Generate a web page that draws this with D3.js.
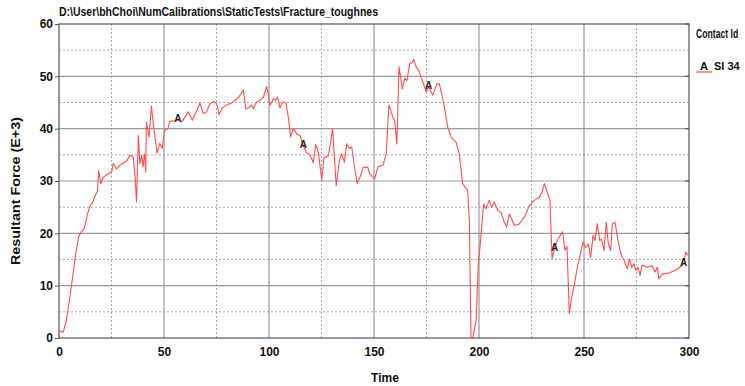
<!DOCTYPE html>
<html>
<head>
<meta charset="utf-8">
<script src="https://cdn.jsdelivr.net/npm/d3@7"></script>
<style>
  body { margin: 0; background: #fff; }
  svg text { font-family: "Liberation Sans Narrow", "Arial Narrow", "Liberation Sans", Arial, sans-serif; font-weight: bold; }
</style>
</head>
<body>
<svg id="chart" width="745" height="386"></svg>
<script>
// chart values
const chartTitle = "D:\\User\\bhChoi\\NumCalibrations\\StaticTests\\Fracture_toughnes";
const xTicks = [0, 50, 100, 150, 200, 250, 300];
const yTicks = [0, 10, 20, 30, 40, 50, 60];
const legendTitle = "Contact Id";
const seriesName = "SI 34";
const markerTimes = [56.6, 116.4, 176, 236, 297.4];

const time = [
  0, 2, 3.5, 5.4, 7.7, 9.3, 10.4, 12, 13.6, 14.8, 15.9, 17.2, 18.3, 18.9, 19.9, 21.1, 22.7,
  25.1, 25.9, 27.4, 29.8, 32.2, 33.8, 35.3, 36.3, 36.9, 37.8, 38.5, 39.4, 40, 40.7, 41.3,
  41.6, 42.9, 44, 45.1, 46.7, 47.9, 49.2, 50.3, 51.9, 52.7, 55, 56.6, 58.4,
  60, 61.6, 63.5, 65.6, 67.1, 68.7, 70.3, 71.9, 73.5, 75.1, 76.2, 77.8, 79.8, 82.2, 85.4,
  87.8, 88.9, 90.5, 91.7, 92.5, 94.1, 95.7, 97.3, 98.9, 100.5, 102.1, 103.2, 104.1, 105.2,
  106.5, 108.1, 109.2, 110.3, 111.6, 113.2, 114.8, 115.9, 117.7, 119.5, 121.1, 122.2, 123.5,
  125.1, 126.2, 128.3, 130.3, 132, 133.5, 134.6, 135.9, 137, 138.3, 139.4, 140.5, 142, 143.3,
  144.9, 147.1, 147.9, 150.3, 151.9, 154.3, 155.8, 157.1, 159, 159.8, 160.9, 161.9, 163.5,
  164.6, 165.7, 167, 168.2, 168.9, 170.1, 171.4, 173, 174.9, 176, 178, 179.9, 181.1, 182.3,
  183.5, 185.1, 186.7, 189.1, 190.6, 192.2, 194.6, 195.4, 196.2, 197, 198.6, 199.7, 200.9,
  202.2, 203.3, 204.9, 206, 207.3, 208.9, 210.5, 212.1, 213.2, 214.4, 215.5, 216.8, 219.2,
  221.6, 224, 226.3, 228.7, 230, 231.1, 232.7, 233.8, 234.8, 236.2, 237.5, 239.8, 240.9,
  241.9, 243, 244, 245.2, 246.8, 248.3, 249.5, 250.7, 252, 253.2, 254.3, 255.2, 256.3, 257.5,
  258.4, 259.5, 260.6, 261.6, 262.7, 263.5, 264.8, 265.9, 267.5, 269.1, 270.6, 271.7, 272.7,
  273.8, 274.6, 275.7, 276.7, 277.5, 280.2, 282.5, 283.8, 284.9, 285.7, 287, 290.5, 293.7,
  296, 297.6, 298.4, 299.7
];
const force = [
  1.4, 1.1, 3.3, 8.4, 15.4, 19.3, 20.2, 20.9, 23.7, 25.3, 25.8, 27.2, 27.9, 32.0, 29.5, 30.7, 31.2,
  31.8, 33.4, 32.3, 33.3, 33.8, 34.9, 34.7, 30.7, 26.0, 38.7, 33.3, 34.9, 32.7, 35.2, 31.7,
  41.3, 38.4, 44.3, 40.3, 35.3, 37.2, 36.2, 39.7, 40.0, 41.4, 41.5, 41.7, 41.3,
  42.2, 43.2, 41.6, 43.5, 44.9, 42.9, 43.2, 44.8, 45.2, 44.8, 42.7, 44.0, 44.5, 44.9, 45.9,
  47.4, 43.8, 44.0, 44.5, 43.8, 45.1, 45.4, 46.0, 48.1, 44.5, 45.7, 45.4, 46.0, 44.0,
  45.1, 44.9, 42.2, 38.4, 40.0, 39.0, 38.7, 37.2, 35.5, 35.0, 33.5, 37.0, 35.5,
  30.2, 34.5, 34.8, 40.0, 29.1, 33.9, 35.2, 33.6, 37.1, 36.2, 36.5, 33.3, 29.5, 30.7,
  32.6, 32.6, 31.4, 30.4, 32.7, 33.0, 35.2, 44.5, 42.2, 41.6, 37.1, 51.8, 47.6,
  49.6, 49.2, 52.4, 52.7, 53.2, 51.8, 51.1, 49.2, 47.0, 48.0, 46.4, 48.5, 48.6, 46.5,
  44.1, 40.3, 38.4, 37.4, 35.2, 29.5, 28.2, 22.4, 0.1, 0, 3.3, 14.2, 19.3,
  25.6, 24.7, 26.3, 25.0, 26.0, 24.4, 24.0, 22.1, 21.2, 23.7, 22.8, 21.5, 21.8,
  23.1, 25.3, 26.3, 26.9, 27.9, 29.5, 27.6, 26.3, 15.2, 17.4, 18.9, 20.3, 16.8,
  17.5, 4.7, 7.5, 9.7, 13.5, 16.1, 18.3, 17.3, 18.0, 15.4, 19.6, 18.6, 21.8, 18.6,
  18.9, 16.7, 22.1, 18.0, 16.7, 21.8, 22.1, 19.3, 16.1, 14.8, 13.2, 15.1, 13.5,
  14.2, 12.9, 13.5, 11.9, 13.9, 13.5, 13.8, 12.6, 13.5, 11.3, 12.2, 12.4, 13.0,
  13.6, 14.2, 16.4, 15.8
];

const width = 745, height = 386;
const margin = { top: 24, right: 56, bottom: 48, left: 59 };
const lineColor = "#ff4d4d";

const svg = d3.select("#chart");
const data = time.map((t, i) => ({ t: t, v: force[i] }));

const x = d3.scaleLinear().domain([0, 300]).range([margin.left, width - margin.right]);
const y = d3.scaleLinear().domain([0, 60]).range([height - margin.bottom, margin.top]);

// minor (dotted) grid every 25 / 5
const minorX = d3.range(25, 300, 50);
const minorY = d3.range(5, 60, 10);
svg.append("g").selectAll("line").data(minorX).join("line")
  .attr("x1", d => x(d)).attr("x2", d => x(d))
  .attr("y1", y(0)).attr("y2", y(60))
  .attr("stroke", "#aaa").attr("stroke-dasharray", "2,2");
svg.append("g").selectAll("line").data(minorY).join("line")
  .attr("x1", x(0)).attr("x2", x(300))
  .attr("y1", d => y(d)).attr("y2", d => y(d))
  .attr("stroke", "#aaa").attr("stroke-dasharray", "2,2");

// major grid
svg.append("g").selectAll("line").data(xTicks.slice(1, -1)).join("line")
  .attr("x1", d => x(d)).attr("x2", d => x(d))
  .attr("y1", y(0)).attr("y2", y(60))
  .attr("stroke", "#999").attr("stroke-width", 1.2);
svg.append("g").selectAll("line").data(yTicks.slice(1, -1)).join("line")
  .attr("x1", x(0)).attr("x2", x(300))
  .attr("y1", d => y(d)).attr("y2", d => y(d))
  .attr("stroke", "#999").attr("stroke-width", 1.2);

// frame
svg.append("rect")
  .attr("x", x(0)).attr("y", y(60))
  .attr("width", x(300) - x(0)).attr("height", y(0) - y(60))
  .attr("fill", "none").attr("stroke", "#555").attr("stroke-width", 1.2);

// axes
const yAxis = d3.axisLeft(y).tickValues(yTicks).tickSize(4).tickPadding(2);
svg.append("g").attr("transform", `translate(${margin.left},0)`).call(yAxis)
  .call(g => g.select(".domain").remove())
  .call(g => g.selectAll("line").attr("stroke", "#555"))
  .call(g => g.selectAll("text").attr("font-size", 12).attr("fill", "#111")
    .attr("font-family", null).attr("font-weight", null));

const xAxis = d3.axisBottom(x).tickValues(xTicks).tickSize(0).tickPadding(9);
svg.append("g").attr("transform", `translate(0,${height - margin.bottom})`).call(xAxis)
  .call(g => g.select(".domain").remove())
  .call(g => g.selectAll("text").attr("font-size", 12).attr("fill", "#111")
    .attr("font-family", null).attr("font-weight", null));

// inner ticks on right edge
svg.append("g").selectAll("line").data(yTicks).join("line")
  .attr("x1", x(300) - 4).attr("x2", x(300))
  .attr("y1", d => y(d)).attr("y2", d => y(d))
  .attr("stroke", "#555").attr("stroke-width", 1.2);

// the series
const line = d3.line().x(d => x(d.t)).y(d => y(d.v));
svg.append("path").datum(data)
  .attr("d", line)
  .attr("fill", "none")
  .attr("stroke", lineColor)
  .attr("stroke-width", 1.1)
  .attr("stroke-linejoin", "round");

// "A" labels sitting on the curve
const bis = d3.bisector(d => d.t).left;
function valueAt(t) {
  const i = Math.max(1, Math.min(data.length - 1, bis(data, t)));
  const a = data[i - 1], b = data[i];
  return a.v + (b.v - a.v) * (t - a.t) / (b.t - a.t);
}
svg.append("g").selectAll("text").data(markerTimes).join("text")
  .attr("x", d => x(d)).attr("y", d => y(valueAt(d)) + 2)
  .attr("text-anchor", "middle")
  .attr("font-size", 10).attr("fill", "#222")
  .text("A");

// title
svg.append("text")
  .attr("x", margin.left).attr("y", 16)
  .attr("font-size", 12.5).attr("fill", "#111")
  .attr("textLength", 319).attr("lengthAdjust", "spacingAndGlyphs")
  .text(chartTitle);

// axis titles
svg.append("text")
  .attr("transform", `translate(20,${(y(0) + y(60)) / 2 + 10}) rotate(-90)`)
  .attr("text-anchor", "middle").attr("font-size", 12.5).attr("fill", "#111")
  .attr("textLength", 148).attr("lengthAdjust", "spacingAndGlyphs")
  .text("Resultant Force (E+3)");
svg.append("text")
  .attr("x", 385).attr("y", 382)
  .attr("text-anchor", "middle").attr("font-size", 12).attr("fill", "#111")
  .text("Time");

// legend - squeezed horizontally so it fits the right edge like the original
svg.append("text")
  .attr("transform", "translate(696,38) scale(0.72,1)")
  .attr("font-size", 12).attr("fill", "#111")
  .text(legendTitle);
svg.append("line")
  .attr("x1", 696).attr("x2", 712).attr("y1", 72).attr("y2", 72)
  .attr("stroke", lineColor).attr("stroke-width", 1.2);
svg.append("text")
  .attr("x", 700).attr("y", 70)
  .attr("font-size", 11).attr("fill", "#111")
  .text("A");
svg.append("text")
  .attr("x", 714).attr("y", 70)
  .attr("font-size", 11).attr("fill", "#111")
  .text(seriesName);
</script>
</body>
</html>
